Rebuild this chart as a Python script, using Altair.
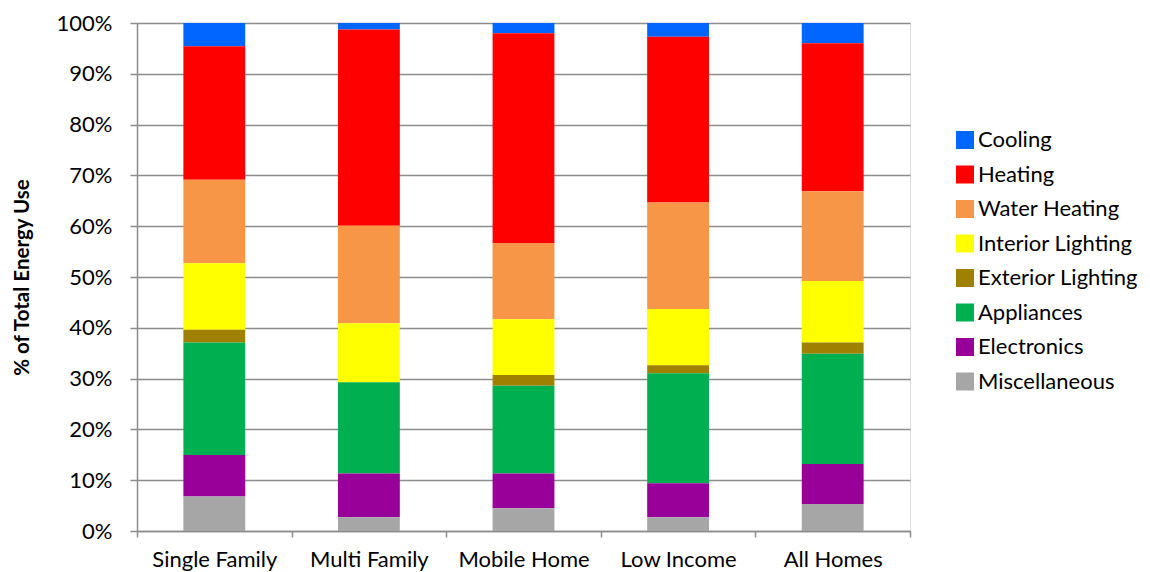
import altair as alt
import pandas as pd

categories = ["Single Family", "Multi Family", "Mobile Home", "Low Income", "All Homes"]
end_uses = ["Cooling", "Heating", "Water Heating", "Interior Lighting",
            "Exterior Lighting", "Appliances", "Electronics", "Miscellaneous"]
colors = ["#0066FF", "#FF0000", "#F79646", "#FFFF00",
          "#A08000", "#00B050", "#990099", "#A6A6A6"]

cooling = [4.6, 1.3, 2.0, 2.7, 4.0]
heating = [26.3, 38.6, 41.3, 32.7, 29.1]
water_heating = [16.5, 19.2, 15.0, 21.0, 17.7]
interior_lighting = [13.1, 11.6, 11.0, 11.1, 12.1]
exterior_lighting = [2.5, 0.0, 2.1, 1.6, 2.2]
appliances = [22.2, 18.0, 17.3, 21.7, 21.7]
electronics = [8.2, 8.6, 6.8, 6.7, 7.9]
miscellaneous = [6.8, 2.7, 4.5, 2.7, 5.3]

series = [cooling, heating, water_heating, interior_lighting,
          exterior_lighting, appliances, electronics, miscellaneous]

rows = []
for k, (name, vals) in enumerate(zip(end_uses, series)):
    for cat, v in zip(categories, vals):
        rows.append({"Home": cat, "Use": name, "Value": v, "rank": len(end_uses) - k})
df = pd.DataFrame(rows)

FONT = "Lato"
GRID = "#8c8c8c"

chart = alt.Chart(df).mark_bar(width={"band": 0.4}).encode(
    x=alt.X("Home:N", sort=categories, title=None,
            scale=alt.Scale(paddingInner=0, paddingOuter=0),
            axis=alt.Axis(labelAngle=0, tickBand="extent", tickSize=6,
                          tickColor=GRID, domainColor=GRID,
                          domainWidth=1.5, tickWidth=1.5,
                          labelFontSize=22, labelFont=FONT, labelColor="#000000",
                          labelPadding=12, grid=False)),
    y=alt.Y("Value:Q", stack="normalize", title="% of Total Energy Use",
            scale=alt.Scale(domain=[0, 1], nice=False),
            axis=alt.Axis(format=".0%", values=[i / 10 for i in range(11)],
                          tickSize=7, tickColor=GRID, domainColor=GRID,
                          domainWidth=1.5, tickWidth=1.5,
                          gridColor=GRID, gridWidth=1.5,
                          labelFontSize=22, labelFont=FONT, labelColor="#000000",
                          labelPadding=18,
                          titleFont=FONT, titleFontSize=20.5, titleFontWeight="bold",
                          titleColor="#000000", titleX=-115, titleY=254,
                          titleAngle=-90, titleAlign="center", titleBaseline="middle")),
    color=alt.Color("Use:N", sort=end_uses,
                    scale=alt.Scale(domain=end_uses, range=colors),
                    legend=alt.Legend(title=None, orient="none", legendX=817, legendY=106,
                                      symbolType="square", symbolSize=324,
                                      symbolStrokeWidth=0, symbolOpacity=1,
                                      labelFontSize=22, labelFont=FONT,
                                      labelColor="#000000", rowPadding=12.5,
                                      labelOffset=2, labelLimit=400)),
    order=alt.Order("rank:Q", sort="ascending"),
).properties(
    width=773, height=508,
    autosize=alt.AutoSizeParams(type="none"),
    padding={"left": 129, "top": 15, "right": 232, "bottom": 50},
).configure_view(stroke=None).configure(background="white")

chart.save("out.html", embed_options={"renderer": "svg", "actions": False})
